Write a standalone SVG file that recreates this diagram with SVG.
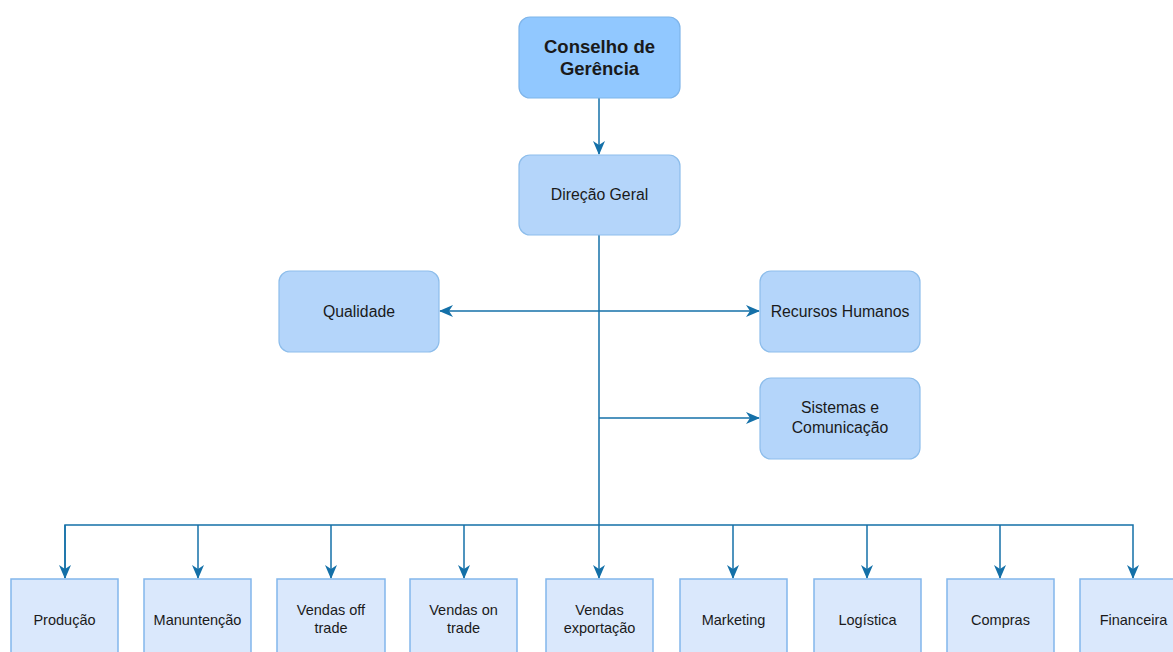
<svg xmlns="http://www.w3.org/2000/svg" width="1173" height="652" viewBox="0 0 1173 652">
  <style>
    .lbl { font-family: "Liberation Sans", Arial, Helvetica, sans-serif; fill: #1a1a1a; text-anchor: middle; }
    .top { font-size: 18.5px; font-weight: bold; }
    .mid { font-size: 15.8px; }
    .bot { font-size: 14.5px; }
    .box-top { fill: #91C8FF; stroke: #7FB5EA; stroke-width: 1.2; }
    .box-mid { fill: #B4D5FA; stroke: #8DBDEB; stroke-width: 1.2; }
    .box-bot { fill: #DAE8FC; stroke: #82B6EC; stroke-width: 1.5; }
    .conn { fill: none; stroke: #1470A8; stroke-width: 1.5; }
  </style>
  <defs>
    <marker id="arrow" viewBox="0 0 14 12" refX="13" refY="6" markerWidth="14" markerHeight="12" markerUnits="userSpaceOnUse" orient="auto">
      <path d="M0,0 L14,6 L0,12 L4,6 Z" fill="#1470A8"/>
    </marker>
  </defs>
  <rect width="1173" height="652" fill="#ffffff"/>

  <!-- connectors -->
  <g id="connectors">
    <path class="conn" d="M599,98 V154" marker-end="url(#arrow)"/>
    <path class="conn" d="M599,235 V578" marker-end="url(#arrow)"/>
    <path class="conn" d="M599,311 H440" marker-end="url(#arrow)"/>
    <path class="conn" d="M599,311 H759" marker-end="url(#arrow)"/>
    <path class="conn" d="M599,418 H759" marker-end="url(#arrow)"/>
    <path class="conn" d="M65,578 V525 H1133 V578" marker-end="url(#arrow)"/>
    <path class="conn" d="M65,525 V578" marker-end="url(#arrow)"/>
    <path class="conn" d="M198,525 V578" marker-end="url(#arrow)"/>
    <path class="conn" d="M331,525 V578" marker-end="url(#arrow)"/>
    <path class="conn" d="M464,525 V578" marker-end="url(#arrow)"/>
    <path class="conn" d="M733,525 V578" marker-end="url(#arrow)"/>
    <path class="conn" d="M867,525 V578" marker-end="url(#arrow)"/>
    <path class="conn" d="M1000,525 V578" marker-end="url(#arrow)"/>
  </g>

  <g id="conselho">
    <rect class="box-top" x="519" y="17" width="161" height="81" rx="11"/>
    <text class="lbl top" x="599.5" y="53">Conselho de</text>
    <text class="lbl top" x="599.5" y="75">Gerência</text>
  </g>
  <g id="direcao">
    <rect class="box-mid" x="519" y="155" width="161" height="80" rx="11"/>
    <text class="lbl mid" x="599.5" y="200">Direção Geral</text>
  </g>
  <g id="qualidade">
    <rect class="box-mid" x="279" y="271" width="160" height="81" rx="11"/>
    <text class="lbl mid" x="359" y="316.5">Qualidade</text>
  </g>
  <g id="rh">
    <rect class="box-mid" x="760" y="271" width="160" height="81" rx="11"/>
    <text class="lbl mid" x="840" y="316.5">Recursos Humanos</text>
  </g>
  <g id="sistemas">
    <rect class="box-mid" x="760" y="378" width="160" height="81" rx="11"/>
    <text class="lbl mid" x="840" y="413">Sistemas e</text>
    <text class="lbl mid" x="840" y="433">Comunicação</text>
  </g>

  <g id="producao">
    <rect class="box-bot" x="11" y="579" width="107" height="82"/>
    <text class="lbl bot" x="64.5" y="625">Produção</text>
  </g>
  <g id="manutencao">
    <rect class="box-bot" x="144" y="579" width="107" height="82"/>
    <text class="lbl bot" x="197.5" y="625">Manuntenção</text>
  </g>
  <g id="vendas-off">
    <rect class="box-bot" x="277" y="579" width="108" height="82"/>
    <text class="lbl bot" x="331" y="615">Vendas off</text>
    <text class="lbl bot" x="331" y="633">trade</text>
  </g>
  <g id="vendas-on">
    <rect class="box-bot" x="410" y="579" width="107" height="82"/>
    <text class="lbl bot" x="463.5" y="615">Vendas on</text>
    <text class="lbl bot" x="463.5" y="633">trade</text>
  </g>
  <g id="vendas-exportacao">
    <rect class="box-bot" x="546" y="579" width="107" height="82"/>
    <text class="lbl bot" x="599.5" y="615">Vendas</text>
    <text class="lbl bot" x="599.5" y="633">exportação</text>
  </g>
  <g id="marketing">
    <rect class="box-bot" x="680" y="579" width="107" height="82"/>
    <text class="lbl bot" x="733.5" y="625">Marketing</text>
  </g>
  <g id="logistica">
    <rect class="box-bot" x="814" y="579" width="107" height="82"/>
    <text class="lbl bot" x="867.5" y="625">Logística</text>
  </g>
  <g id="compras">
    <rect class="box-bot" x="947" y="579" width="107" height="82"/>
    <text class="lbl bot" x="1000.5" y="625">Compras</text>
  </g>
  <g id="financeira">
    <rect class="box-bot" x="1080" y="579" width="107" height="82"/>
    <text class="lbl bot" x="1133.5" y="625">Financeira</text>
  </g>
</svg>
